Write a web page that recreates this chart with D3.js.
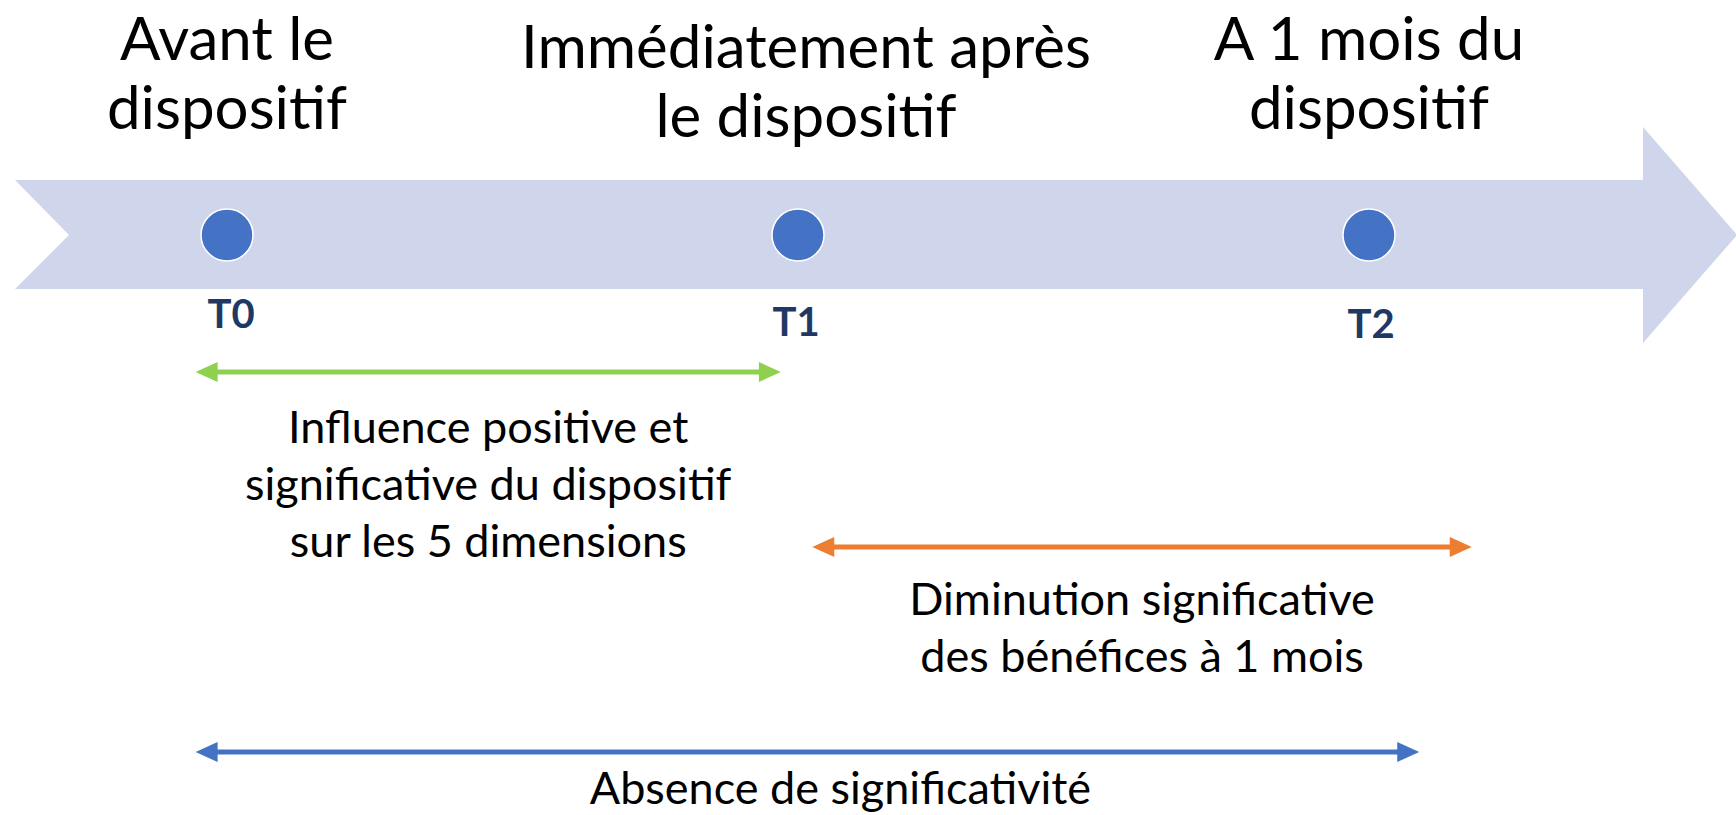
<!DOCTYPE html>
<html><head><meta charset="utf-8">
<script src="https://cdn.jsdelivr.net/npm/d3@7"></script>
<style>html,body{margin:0;padding:0;background:#fff;overflow:hidden}</style>
</head><body>
<svg id="chart" width="1736" height="815"></svg>
<script>
// ---- data ----
const timepoints = ["T0", "T1", "T2"];
const timeTitles = [["Avant le", "dispositif"], ["Immédiatement après", "le dispositif"], ["A 1 mois du", "dispositif"]];
const spanNames = ["green", "orange", "blue"];
const spanStart = [-0.055, 1.025, -0.055];
const spanEnd = [0.97, 2.18, 2.088];
const spanLabels = [
  ["Influence positive et", "significative du dispositif", "sur les 5 dimensions"],
  ["Diminution significative", "des bénéfices à 1 mois"],
  ["Absence de significativité"]
];

// ---- layout / style ----
const W = 1736, H = 815;
const FONT = "Lato, 'Open Sans', sans-serif";
const colors = {green: "#8FD14F", orange: "#ED7D31", blue: "#4472C4"};
const svg = d3.select("#chart");
svg.append("rect").attr("width", W).attr("height", H).attr("fill", "#fff");

const x = d3.scaleLinear().domain([0, 2]).range([227, 1369]);

// band arrow
const bandTop = 180, bandBot = 289, bandMid = 235, headTop = 127, headBot = 343;
const bandLeft = 15, notchX = 69, headBase = 1643, tipX = 1737;
svg.append("path")
  .attr("d", `M${bandLeft},${bandTop} L${headBase},${bandTop} L${headBase},${headTop} L${tipX},${bandMid} L${headBase},${headBot} L${headBase},${bandBot} L${bandLeft},${bandBot} L${notchX},${bandMid} Z`)
  .attr("fill", "#CFD5EA");

// dots
svg.selectAll("circle.tp").data(timepoints).join("circle")
  .attr("class", "tp")
  .attr("cx", (d, i) => x(i)).attr("cy", bandMid).attr("r", 26)
  .attr("fill", "#4472C4").attr("stroke", "#fff").attr("stroke-width", 1.5);

// T labels
const tBase = [328, 336, 338];
const tDx = [4, -2, 2];
svg.selectAll("text.tl").data(timepoints).join("text")
  .attr("class", "tl")
  .attr("x", (d, i) => x(i) + tDx[i]).attr("y", (d, i) => tBase[i])
  .attr("text-anchor", "middle")
  .attr("font-family", FONT).attr("font-weight", 700).attr("font-size", 40)
  .attr("fill", "#1F3864")
  .text(d => d);

// titles
const titleBase = [60, 68, 60];
const titleDx = [0, 8, 0];
timeTitles.forEach((lines, i) => {
  const t = svg.append("text")
    .attr("text-anchor", "middle")
    .attr("font-family", FONT).attr("font-size", 60).attr("fill", "#000");
  lines.forEach((ln, j) => {
    t.append("tspan").attr("x", x(i) + titleDx[i]).attr("y", titleBase[i] + j * 69).text(ln);
  });
});

// spans
const spanY = [372, 547, 752];
const textBase = [443, 615, 804];
const lineGap = 57;
const headLen = 22, headHalf = 10;
spanNames.forEach((name, k) => {
  const x0 = x(spanStart[k]), x1 = x(spanEnd[k]), y = spanY[k];
  const c = colors[name];
  svg.append("line")
    .attr("x1", x0 + headLen - 2).attr("x2", x1 - headLen + 2)
    .attr("y1", y).attr("y2", y)
    .attr("stroke", c).attr("stroke-width", 5);
  svg.append("path")
    .attr("d", `M${x0},${y} L${x0 + headLen},${y - headHalf} L${x0 + headLen},${y + headHalf} Z`)
    .attr("fill", c);
  svg.append("path")
    .attr("d", `M${x1},${y} L${x1 - headLen},${y - headHalf} L${x1 - headLen},${y + headHalf} Z`)
    .attr("fill", c);
  const cx = k === 2 ? (x0 + x1) / 2 + 33 : (x0 + x1) / 2;
  const t = svg.append("text")
    .attr("text-anchor", "middle")
    .attr("font-family", FONT).attr("font-size", 45).attr("fill", "#000");
  spanLabels[k].forEach((ln, j) => {
    t.append("tspan").attr("x", cx).attr("y", textBase[k] + j * lineGap).text(ln);
  });
});
</script>
</body></html>
